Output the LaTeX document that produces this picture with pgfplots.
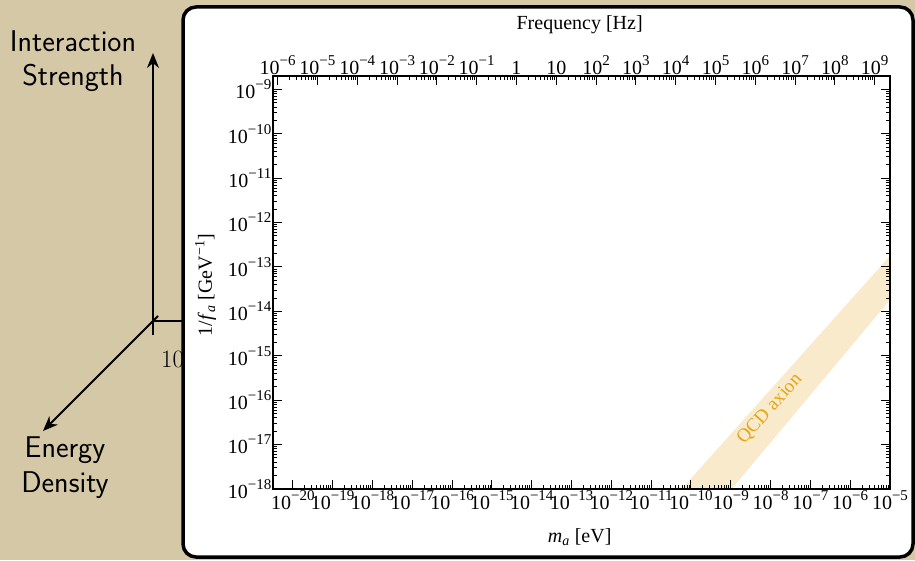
\documentclass[border=0pt]{standalone}
\usepackage{fontspec}
\setmainfont{Liberation Serif}
\usepackage{pgfplots}
\pgfplotsset{compat=1.18}
\usetikzlibrary{arrows.meta}
\definecolor{bg}{RGB}{212,200,167}
\definecolor{band}{RGB}{249,234,204}
\definecolor{qcd}{RGB}{228,166,20}
\newcommand{\sx}[1]{\raisebox{0.45em}{\fontsize{15}{15}\selectfont #1}}
\newcommand{\p}[1]{10\sx{#1}}
\pgfplotsset{
  common/.style={
    at={(273pt,71pt)}, anchor=south west, scale only axis,
    width=617pt, height=413pt,
    tick align=inside,
    major tick length=9pt, minor tick length=4.5pt,
    every tick/.style={black, line width=1pt},
    axis line style={line width=1.5pt, -},
    tick label style={font=\fontsize{20}{22}\selectfont, inner sep=1.5pt},
    label style={font=\fontsize{20}{22}\selectfont},
  }
}
\begin{document}
\begin{tikzpicture}
\useasboundingbox (0pt,0pt) rectangle (915pt,560pt);
\fill[bg] (0pt,0pt) rectangle (915pt,560pt);
% schematic axes on the left
\draw[line width=2pt, -{Stealth[length=15pt,width=12pt]}] (153pt,225pt) -- (153pt,507pt);
\draw[line width=2pt] (153pt,239pt) -- (200pt,239pt);
\draw[line width=2pt, -{Stealth[length=15pt,width=12pt]}] (158pt,244pt) -- (43pt,129pt);
\node[anchor=base west, inner sep=0pt, font=\fontsize{23}{24}\selectfont] at (161pt,193pt) {$10$};
\node[align=center, font=\sffamily\fontsize{30}{34}\selectfont] at (73pt,499pt) {Interaction\\Strength};
\node[align=center, font=\sffamily\fontsize{30}{35}\selectfont] at (65pt,92pt) {Energy\\Density};
% white panel
\draw[line width=3.5pt, fill=white, rounded corners=13pt] (183pt,3pt) rectangle (913pt,553pt);
% main axis
\begin{axis}[common,
  xmode=log, ymode=log,
  xmin=3.16228e-21, xmax=1e-5, ymin=1e-18, ymax=2e-9,
  axis on top,
  xtick pos=bottom, ytick pos=both,
  xtick={1e-20,1e-19,1e-18,1e-17,1e-16,1e-15,1e-14,1e-13,1e-12,1e-11,1e-10,1e-9,1e-8,1e-7,1e-6,1e-5},
  xticklabels={\p{−20},\p{−19},\p{−18},\p{−17},\p{−16},\p{−15},\p{−14},\p{−13},\p{−12},\p{−11},\p{−10},\p{−9},\p{−8},\p{−7},\p{−6},\p{−5}},
  ytick={1e-18,1e-17,1e-16,1e-15,1e-14,1e-13,1e-12,1e-11,1e-10,1e-9},
  yticklabels={\p{−18},\p{−17},\p{−16},\p{−15},\p{−14},\p{−13},\p{−12},\p{−11},\p{−10},\p{−9}},
  xlabel={\textit{m}\textsubscript{\textit{a}} [eV]},
  ylabel={1/\textit{f}\textsubscript{\textit{a}} [GeV\textsuperscript{−1}]},
  xlabel style={at={(axis description cs:0.497,-0.116)}, anchor=center},
  ylabel style={at={(axis description cs:-0.109,0.494)}, anchor=center, rotate=0},
]
\addplot[fill=band, draw=none] coordinates {(5.834e-11,1e-18) (1e-5,1.778e-13) (1e-5,1.820e-14) (1.047e-9,1e-18)} -- cycle;
\node[rotate=48, text=qcd, font=\fontsize{19}{20}\selectfont] at (axis cs:9.55e-9,6.31e-17) {QCD axion};
\end{axis}
% frequency axis
\begin{axis}[common,
  xmode=log, xmin=7.6464e-7, xmax=2.41799e9, ymin=0, ymax=1,
  axis x line*=top, hide y axis,
  xtick={1e-6,1e-5,1e-4,1e-3,1e-2,1e-1,1,10,100,1e3,1e4,1e5,1e6,1e7,1e8,1e9},
  xticklabels={\p{−6},\p{−5},\p{−4},\p{−3},\p{−2},\p{−1},1,10,\p{2},\p{3},\p{4},\p{5},\p{6},\p{7},\p{8},\p{9}},
  xlabel={Frequency [Hz]},
  xlabel style={at={(axis description cs:0.497,1.124)}, anchor=center},
]
\addplot[draw=none] coordinates {(1,0.5)};
\end{axis}
\end{tikzpicture}
\end{document}
